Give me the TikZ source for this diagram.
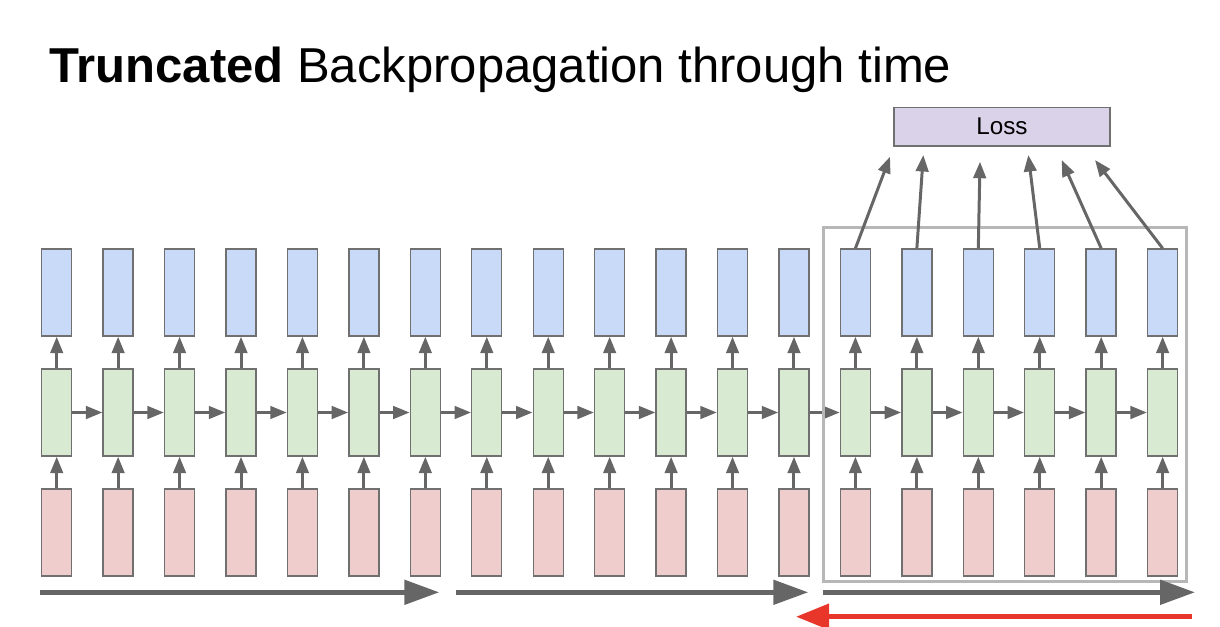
\documentclass[tikz,border=0pt]{standalone}
\usepackage{fontspec}
\setmainfont{Liberation Sans}
\usetikzlibrary{arrows.meta}

\definecolor{outBlue}{HTML}{C9DAF8}
\definecolor{hidGreen}{HTML}{D9EAD3}
\definecolor{inRed}{HTML}{EFCDCC}
\definecolor{lossPurple}{HTML}{D9D2E9}
\definecolor{edgeGray}{HTML}{707070}
\definecolor{arrowGray}{HTML}{666666}
\definecolor{frameGray}{HTML}{B7B7B7}
\definecolor{backRed}{HTML}{E8372A}

\begin{document}
\begin{tikzpicture}[x=0.02cm, y=-0.02cm,
    cell/.style={draw=edgeGray, line width=0.8pt, minimum width=0.6cm,
        minimum height=1.74cm, inner sep=0pt},
    flow/.style={-{Triangle[length=0.33cm,width=0.25cm]}, draw=arrowGray, line width=1.7pt},
    bigflow/.style={-{Triangle[length=0.7cm,width=0.48cm]}, draw=arrowGray, line width=2.85pt},
    backflow/.style={-{Triangle[length=0.66cm,width=0.5cm]}, draw=backRed, line width=2.85pt}]
        % --- 1. Parameters ---
        \def\colX{56.7}
        \def\pitch{61.44}
        \useasboundingbox (0,0) rectangle (1220,626);
        % Title
        \node[anchor=base west, inner sep=0pt, font=\fontsize{27.9}{33}\selectfont]
            (title) at (49,82.7) {\textbf{Truncated} Backpropagation through time};
        % --- 2. Unrolled cells ---
        \foreach \i in {0,...,18} {
            \pgfmathsetmacro{\cx}{\colX+\i*\pitch}
            \node[cell, fill=outBlue] (b\i) at (\cx,292.5) {};
            \node[cell, fill=hidGreen] (g\i) at (\cx,412.5) {};
            \node[cell, fill=inRed] (r\i) at (\cx,532.5) {};
            \draw[flow] (r\i.north) -- (g\i.south);
            \draw[flow] (g\i.north) -- (b\i.south);
        }
        \foreach \i [evaluate=\i as \j using int(\i+1)] in {0,...,17}
            \draw[flow] (g\i.east) -- (g\j.west);
        % --- 3. Truncation window and loss ---
        \draw[frameGray, line width=1.7pt] (823.3,227.7) rectangle (1186.7,581.7);
        \node[draw=edgeGray, line width=0.8pt, fill=lossPurple, minimum width=4.32cm,
            minimum height=0.774cm, font=\fontsize{13.8}{16}\selectfont] (loss) at (1002,126.7) {Loss};
        \foreach \i/\tx/\ty in {13/890/156.7, 14/923.3/155, 15/980/161.7,
                16/1028.3/155, 17/1061.7/160, 18/1095/160} {
            \coordinate (t\i) at (\tx,\ty);
            \draw[flow] (b\i.north) -- (t\i);
        }
        % --- 4. Forward / backward passes ---
        \coordinate (s1) at (40,592.3);
        \coordinate (e1) at (439.3,592.3);
        \coordinate (s2) at (456,592.3);
        \coordinate (e2) at (808.3,592.3);
        \coordinate (s3) at (822.7,592.3);
        \coordinate (e3) at (1195,592.3);
        \draw[bigflow] (s1) -- (e1);
        \draw[bigflow] (s2) -- (e2);
        \draw[bigflow] (s3) -- (e3);
        \coordinate (rs) at (1191.7,616.7);
        \coordinate (re) at (796,616.7);
        \draw[backflow] (rs) -- (re);
    \end{tikzpicture}
\end{document}
